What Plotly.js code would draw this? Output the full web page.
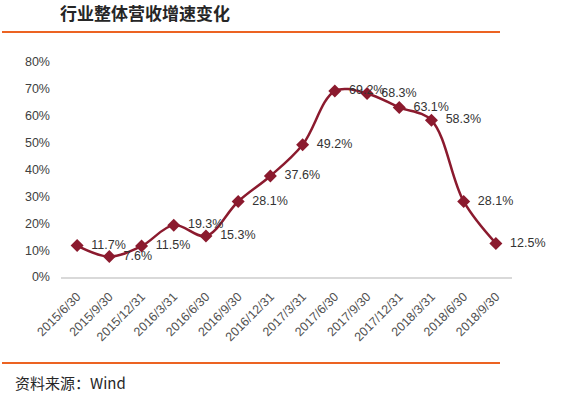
<!DOCTYPE html>
<html><head><meta charset="utf-8">
<script src="https://cdn.plot.ly/plotly-3.0.1.min.js"></script>
<style>html,body{margin:0;padding:0;background:#fff;}#chart{width:573px;height:393px;}</style>
</head><body><div id="chart"></div>
<script>
const categories = ['2015/6/30','2015/9/30','2015/12/31','2016/3/31','2016/6/30','2016/9/30','2016/12/31','2017/3/31','2017/6/30','2017/9/30','2017/12/31','2018/3/31','2018/6/30','2018/9/30'];
const growth = [11.7, 7.6, 11.5, 19.3, 15.3, 28.1, 37.6, 49.2, 69.2, 68.3, 63.1, 58.3, 28.1, 12.5];
const yTicks = [0,10,20,30,40,50,60,70,80];
const yTickLabels = yTicks.map(v => v + '%');
const dataLabels = growth.map(v => '\u00a0\u00a0' + v.toFixed(1) + '%');

const W = 573, H = 393, L = 61, R = 61, T = 62, B = 116;
const pw = W - L - R, ph = H - T - B;
const px = x => (x - L) / pw;
const py = y => (H - B - y) / ph;

const trace = {
  x: categories, y: growth, type: 'scatter', mode: 'lines+markers+text',
  line: {color: '#8B1A2E', width: 2.5, shape: 'spline', smoothing: 1},
  marker: {symbol: 'diamond', size: 10, color: '#8B1A2E'},
  text: dataLabels, textposition: 'middle right',
  textfont: {family: 'Liberation Sans, Arial, sans-serif', size: 12.5, color: '#333333'},
  cliponaxis: false, hoverinfo: 'skip'
};

const layout = {
  width: W, height: H, margin: {l: L, r: R, t: T, b: B, pad: 0},
  paper_bgcolor: '#fff', plot_bgcolor: '#fff', showlegend: false,
  title: {text: '行业整体营收增速变化', x: 60 / W, xanchor: 'left', xref: 'container',
    y: 1 - 14 / H, yref: 'container', yanchor: 'middle',
    font: {family: 'Noto Sans CJK SC, sans-serif', size: 17, color: '#262626', weight: 'bold'}},
  xaxis: {type: 'category', tickangle: -45, showgrid: false, zeroline: false,
    showline: true, linecolor: '#D9D9D9', linewidth: 1.5, ticks: '', ticklabelstandoff: 6,
    tickfont: {family: 'Liberation Sans, Arial, sans-serif', size: 12.5, color: '#505050'},
    range: [-0.5, categories.length - 0.5]},
  yaxis: {range: [0, 80], tickvals: yTicks, ticktext: yTickLabels, showgrid: false, zeroline: false,
    showline: false, ticks: '', ticklabelstandoff: 10,
    tickfont: {family: 'Liberation Sans, Arial, sans-serif', size: 12.5, color: '#404040'}},
  shapes: [
    {type: 'line', xref: 'paper', yref: 'paper', x0: px(2), x1: px(500), y0: py(32), y1: py(32), line: {color: '#EC6322', width: 2}},
    {type: 'line', xref: 'paper', yref: 'paper', x0: px(2), x1: px(500), y0: py(363), y1: py(363), line: {color: '#EC6322', width: 2}}
  ],
  annotations: [
    {text: '资料来源：Wind', xref: 'paper', yref: 'paper', x: px(13), y: py(382), xanchor: 'left', yanchor: 'middle',
      showarrow: false, font: {family: 'Noto Sans CJK SC, sans-serif', size: 15, color: '#262626'}}
  ]
};
Plotly.newPlot('chart', [trace], layout, {displayModeBar: false, staticPlot: true});
</script></body></html>
